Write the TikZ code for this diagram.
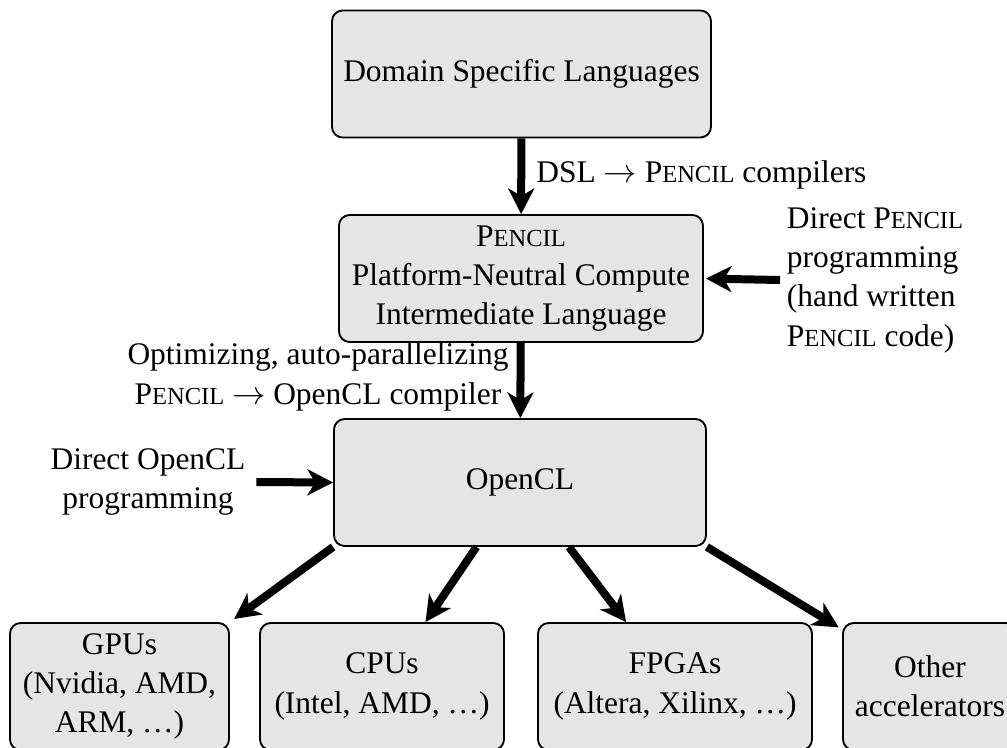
\documentclass[tikz,border=0pt]{standalone}
\usepackage{fontspec}
\setmainfont{Liberation Serif}
\usepackage{tikz}
\usetikzlibrary{arrows.meta}
\newcommand{\pencilsc}{P{\fontsize{18.4}{20}\selectfont ENCIL}}

\begin{document}
\begin{tikzpicture}[x=0.75pt,y=0.75pt,yscale=-1,xscale=1,
        box/.style={draw, line width=1.4pt, rounded corners=8pt, fill=gray!20, align=center, minimum height=95.25pt, inner sep=0pt, font=\fontsize{23.6}{29.5}\selectfont},
        txt/.style={inner sep=2pt, font=\fontsize{23.6}{29.5}\selectfont},
        bigarrow/.style={line width=6pt, -{Stealth[length=19.5pt,width=20pt,inset=6pt,line width=0pt]}}]
        \clip (0,0) rectangle (1007,747);

        \node[box, minimum width=284.25pt] (dsl) at (521.5,74) {Domain Specific Languages};
        \node[box, minimum width=273pt] (pencil) at (521,278.5) {\pencilsc\\Platform-Neutral Compute\\Intermediate Language};
        \node[box, minimum width=279pt] (opencl) at (520,482.5) {OpenCL};

        \node[box, minimum width=164.25pt] (gpus) at (119.5,686.5) {GPUs\\(Nvidia, AMD,\\ARM, \ldots)};
        \node[box, minimum width=183pt] (cpus) at (382,686.5) {CPUs\\(Intel, AMD, \ldots)};
        \node[box, minimum width=205.5pt] (fpgas) at (675,686.5) {FPGAs\\(Altera, Xilinx, \ldots)};
        \node[box, minimum width=130.5pt] (other) at (930,686.5) {Other\\accelerators};

        \node[txt, anchor=west] (dsllab) at (533.5,175) {DSL $\rightarrow$ \pencilsc{} compilers};
        \node[txt, anchor=west, align=left, inner sep=5pt] (dpencil) at (780,280) {Direct \pencilsc\\programming\\(hand written\\\pencilsc{} code)};
        \node[txt, align=center] (optim) at (318,377) {Optimizing, auto-parallelizing\\\pencilsc{} $\rightarrow$ OpenCL compiler};
        \node[txt, align=center, inner xsep=8pt] (docl) at (148,482) {Direct OpenCL\\programming};

        \draw[bigarrow] (dsl) -- (pencil);
        \draw[bigarrow, shorten >=1.5pt] (dpencil.west) -- (pencil.east);
        \draw[bigarrow] (pencil) -- (opencl);
        \draw[bigarrow] (docl.east) -- (opencl.west);

        \draw[bigarrow, shorten >=4pt] (opencl.south west) -- (gpus.north east);
        \draw[bigarrow] (opencl) -- (cpus);
        \draw[bigarrow] (opencl) -- (fpgas);
        \draw[bigarrow, shorten >=3pt] (opencl.south east) -- (other.147);
    \end{tikzpicture}
\end{document}
